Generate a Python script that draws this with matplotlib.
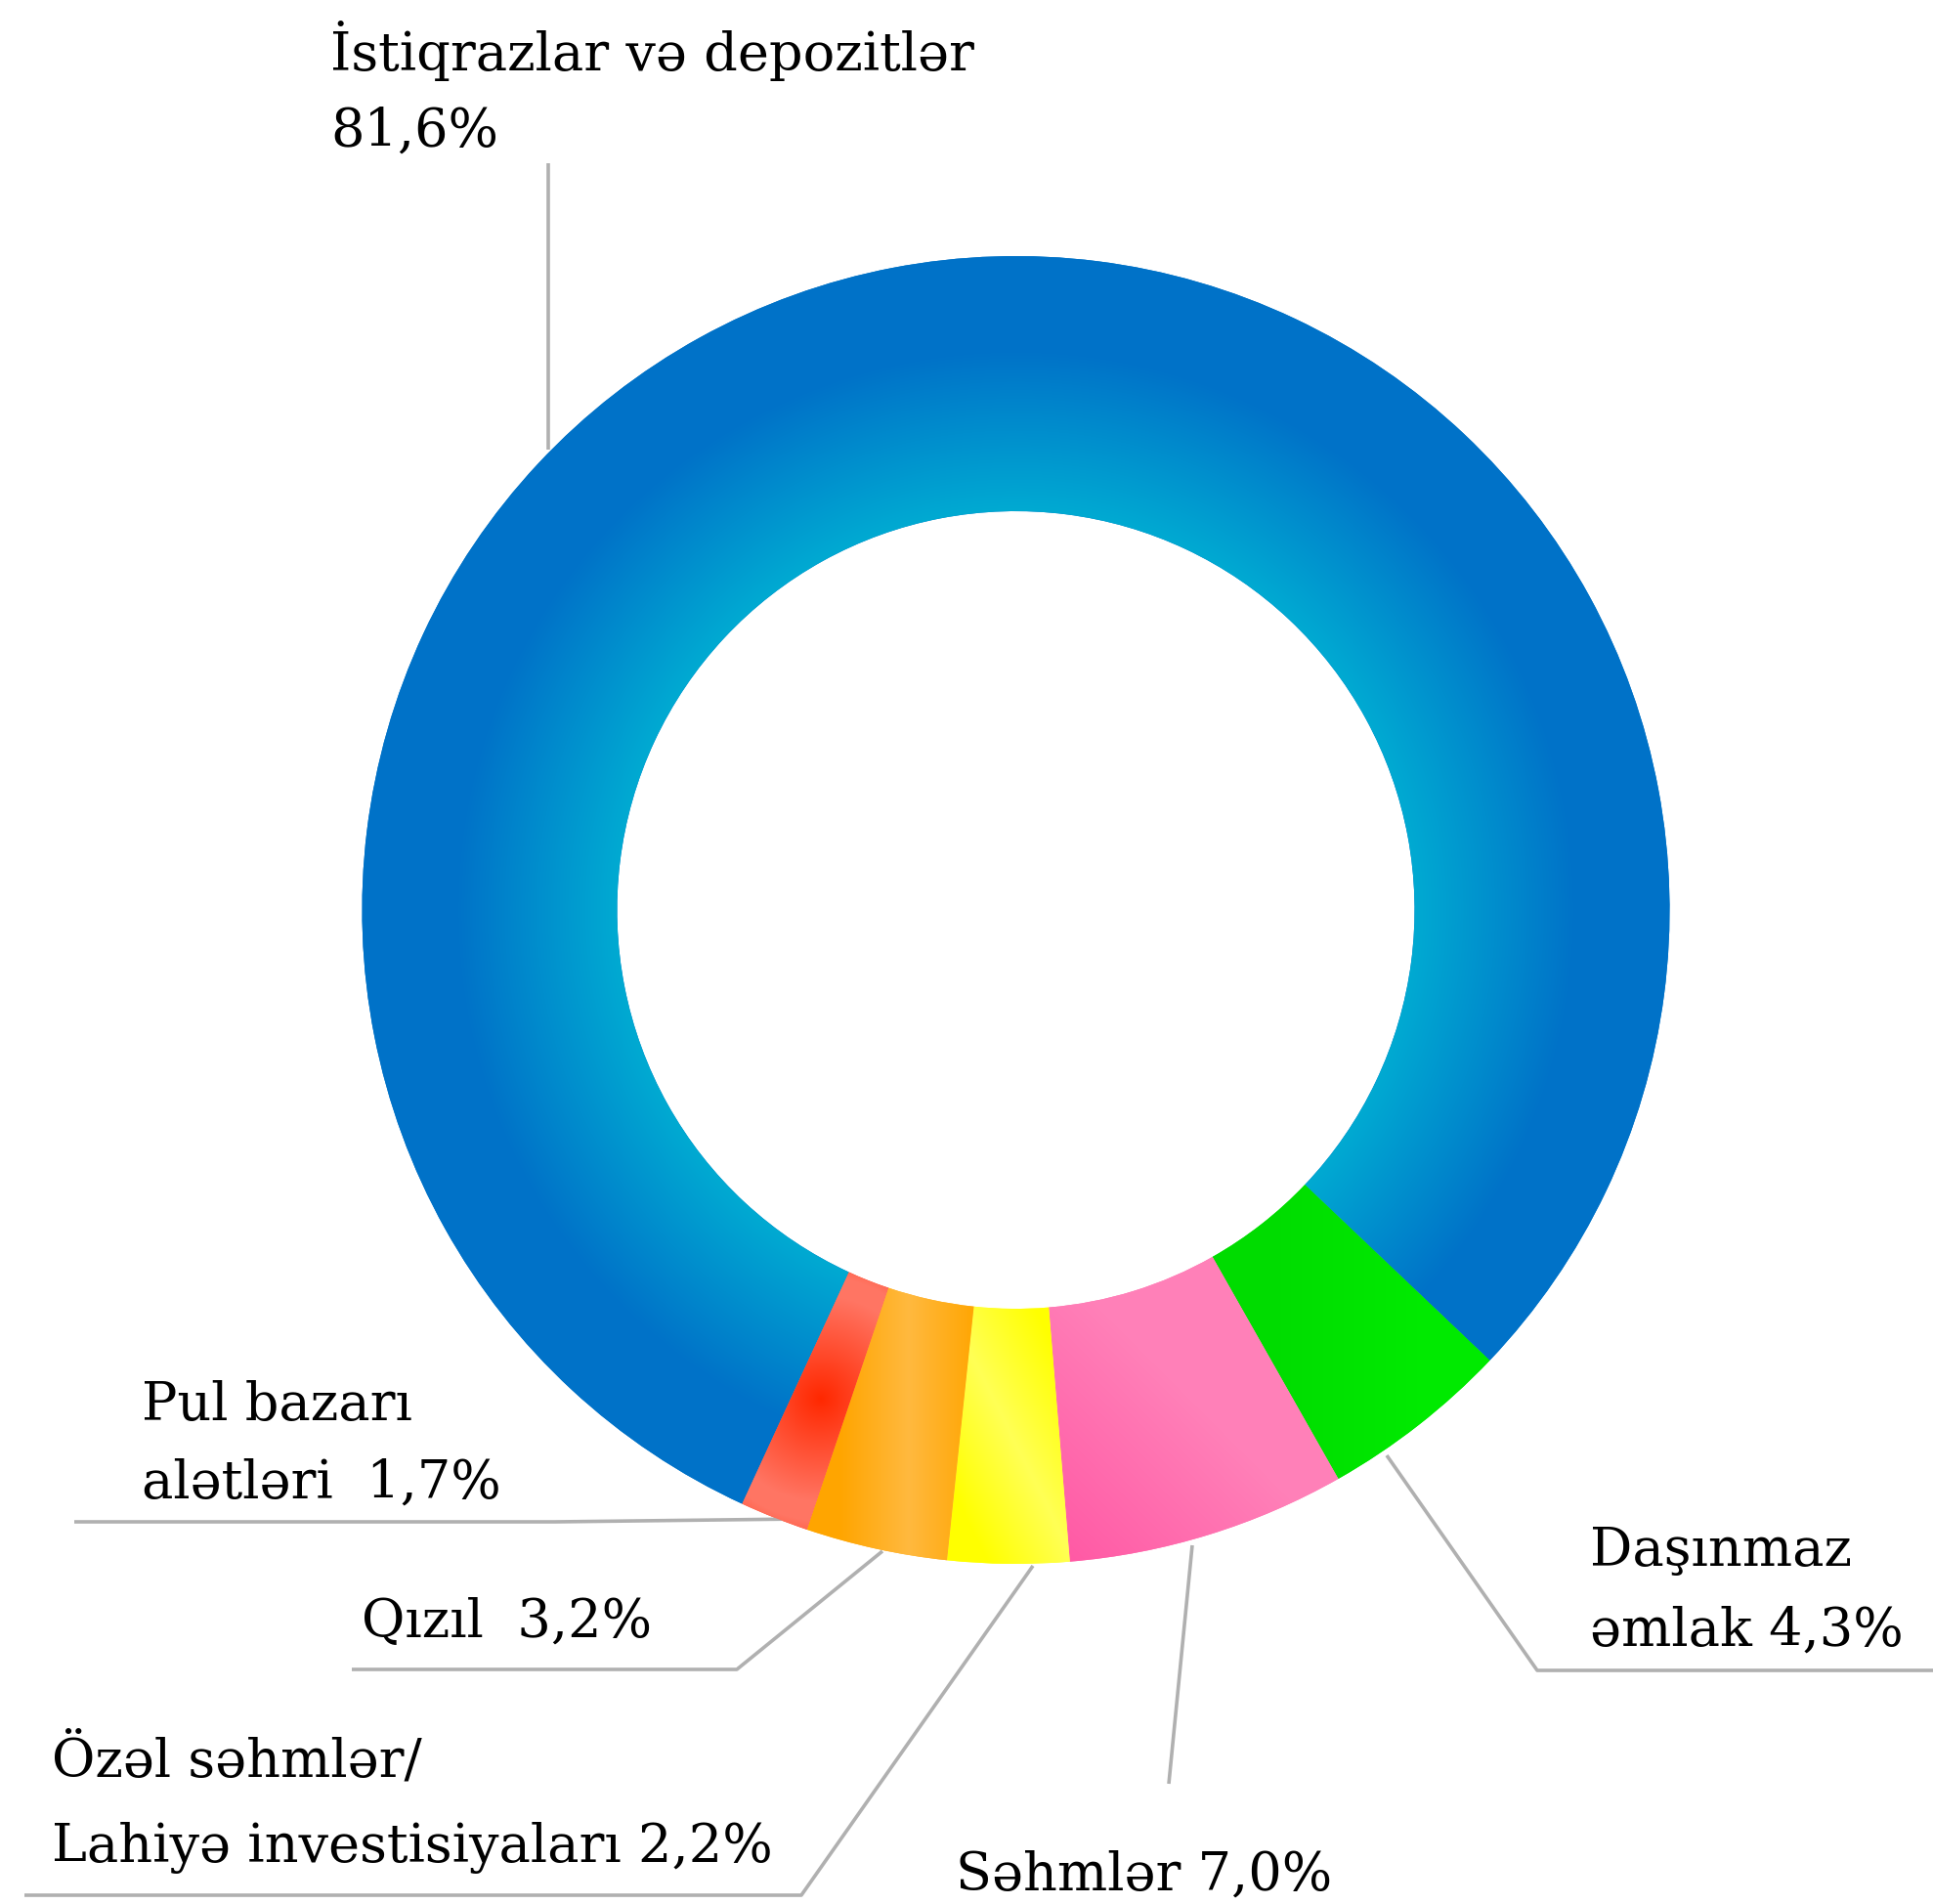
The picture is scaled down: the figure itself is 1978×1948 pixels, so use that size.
import numpy as np
import matplotlib
matplotlib.use('Agg')
import matplotlib.pyplot as plt
from matplotlib.colors import to_rgb

# slices in drawing order (clockwise from the lower left)
categories = ['İstiqrazlar və depozitlər', 'Daşınmaz əmlak', 'Səhmlər',
              'Özəl səhmlər/Lahiyə investisiyaları', 'Qızıl', 'Pul bazarı alətləri']
printed_pct = ['81,6%', '4,3%', '7,0%', '2,2%', '3,2%', '1,7%']
# slice sizes as they are drawn in the picture
shares = [80.3, 4.7, 6.9, 3.0, 3.5, 1.7]

W, H = 1978, 1948
cx, cy = 1039.5, 931.0          # ring centre, pixel coords (y down)
R_out, R_in = 669.0, 408.0

plt.rcParams['font.family'] = ['DejaVu Serif']

fig = plt.figure(figsize=(W / 100, H / 100), dpi=100)
ax = fig.add_axes([0, 0, 1, 1])

wedges, _ = ax.pie(shares, colors=['#0073c8', '#00e800', '#ff70b0', '#ffff30', '#ffb020', '#ff4020'],
                   startangle=-114.75, counterclock=False, radius=R_out,
                   center=(cx, H - cy), wedgeprops=dict(width=R_out - R_in, linewidth=0))


def mix(c1, c2, f):
    a = np.array(to_rgb(c1))
    b = np.array(to_rgb(c2))
    f = np.clip(f, 0, 1)[..., None]
    return a * (1 - f) + b * f


def g_blue(X, Y):
    r = np.hypot(X - cx, Y - cy)
    return mix('#00aad2', '#0072c8', (r - R_in) / 165)


def g_green(X, Y):
    return mix('#00dc00', '#00ea00', (X - 1300) / 150)


def g_pink(X, Y):
    return mix('#ff5aa5', '#ff80b8', ((X - 1095) * 0.7 - (Y - 1595) * 0.7) / 200)


def g_yellow(X, Y):
    s = (X - 1043) * 0.893 - (Y - 1466) * 0.449
    return mix('#ffff00', '#ffff55', 1 - np.abs(s + 8) / 80)


def g_orange(X, Y):
    return mix('#ffa500', '#ffb93f', 1 - np.abs(X - 930) / 70)


def g_red(X, Y):
    d = np.hypot(X - 840, Y - 1431)
    f = np.where(d < 105, d / 105, 1 - (d - 125) / 60)
    return mix('#ff2800', '#ff7563', f)


grads = [g_blue, g_green, g_pink, g_yellow, g_orange, g_red]
for w, g in zip(wedges, grads):
    v = w.get_path().vertices
    x0, x1 = np.floor(v[:, 0].min()) - 2, np.ceil(v[:, 0].max()) + 2
    y0, y1 = np.floor(v[:, 1].min()) - 2, np.ceil(v[:, 1].max()) + 2
    xs = np.arange(x0, x1) + 0.5
    ys = np.arange(y0, y1) + 0.5
    X, Yd = np.meshgrid(xs, ys)
    img = g(X, H - Yd)
    im = ax.imshow(img, extent=(x0, x1, y0, y1), origin='lower', interpolation='bilinear', zorder=2)
    im.set_clip_path(w)

# leader lines (pixel coords, y down)
lc = '#b0b0b0'
leaders = [
    [(561, 167), (561, 460)],
    [(1419, 1489), (1573, 1709), (1978, 1709)],
    [(1220, 1581), (1196, 1825)],
    [(1057, 1602), (820, 1939), (25, 1939)],
    [(903, 1587), (754, 1708), (360, 1708)],
    [(822, 1554), (568, 1557), (76, 1557)],
]
for pts in leaders:
    xs = [p[0] for p in pts]
    ys = [H - p[1] for p in pts]
    ax.plot(xs, ys, color=lc, lw=2.6, solid_capstyle='butt', zorder=1)

fs = 39
label_lines = [
    [(338, 72, 'İstiqrazlar və depozitlər'), (338, 150, printed_pct[0])],
    [(1627, 1602, 'Daşınmaz'), (1627, 1684, 'əmlak ' + printed_pct[1])],
    [(978, 1934, 'Səhmlər ' + printed_pct[2])],
    [(53, 1817, 'Özəl səhmlər/'), (53, 1905, 'Lahiyə investisiyaları ' + printed_pct[3])],
    [(370, 1675, 'Qızıl  ' + printed_pct[4])],
    [(145, 1453, 'Pul bazarı'), (145, 1533, 'alətləri  ' + printed_pct[5])],
]
for lines in label_lines:
    for x, y, s in lines:
        ax.text(x, H - y, s, fontsize=fs, color='black', ha='left', va='baseline', zorder=5)

ax.set_xlim(0, W)
ax.set_ylim(0, H)
ax.set_aspect('equal')
ax.axis('off')
fig.savefig('out.png', dpi=100, facecolor='white')
